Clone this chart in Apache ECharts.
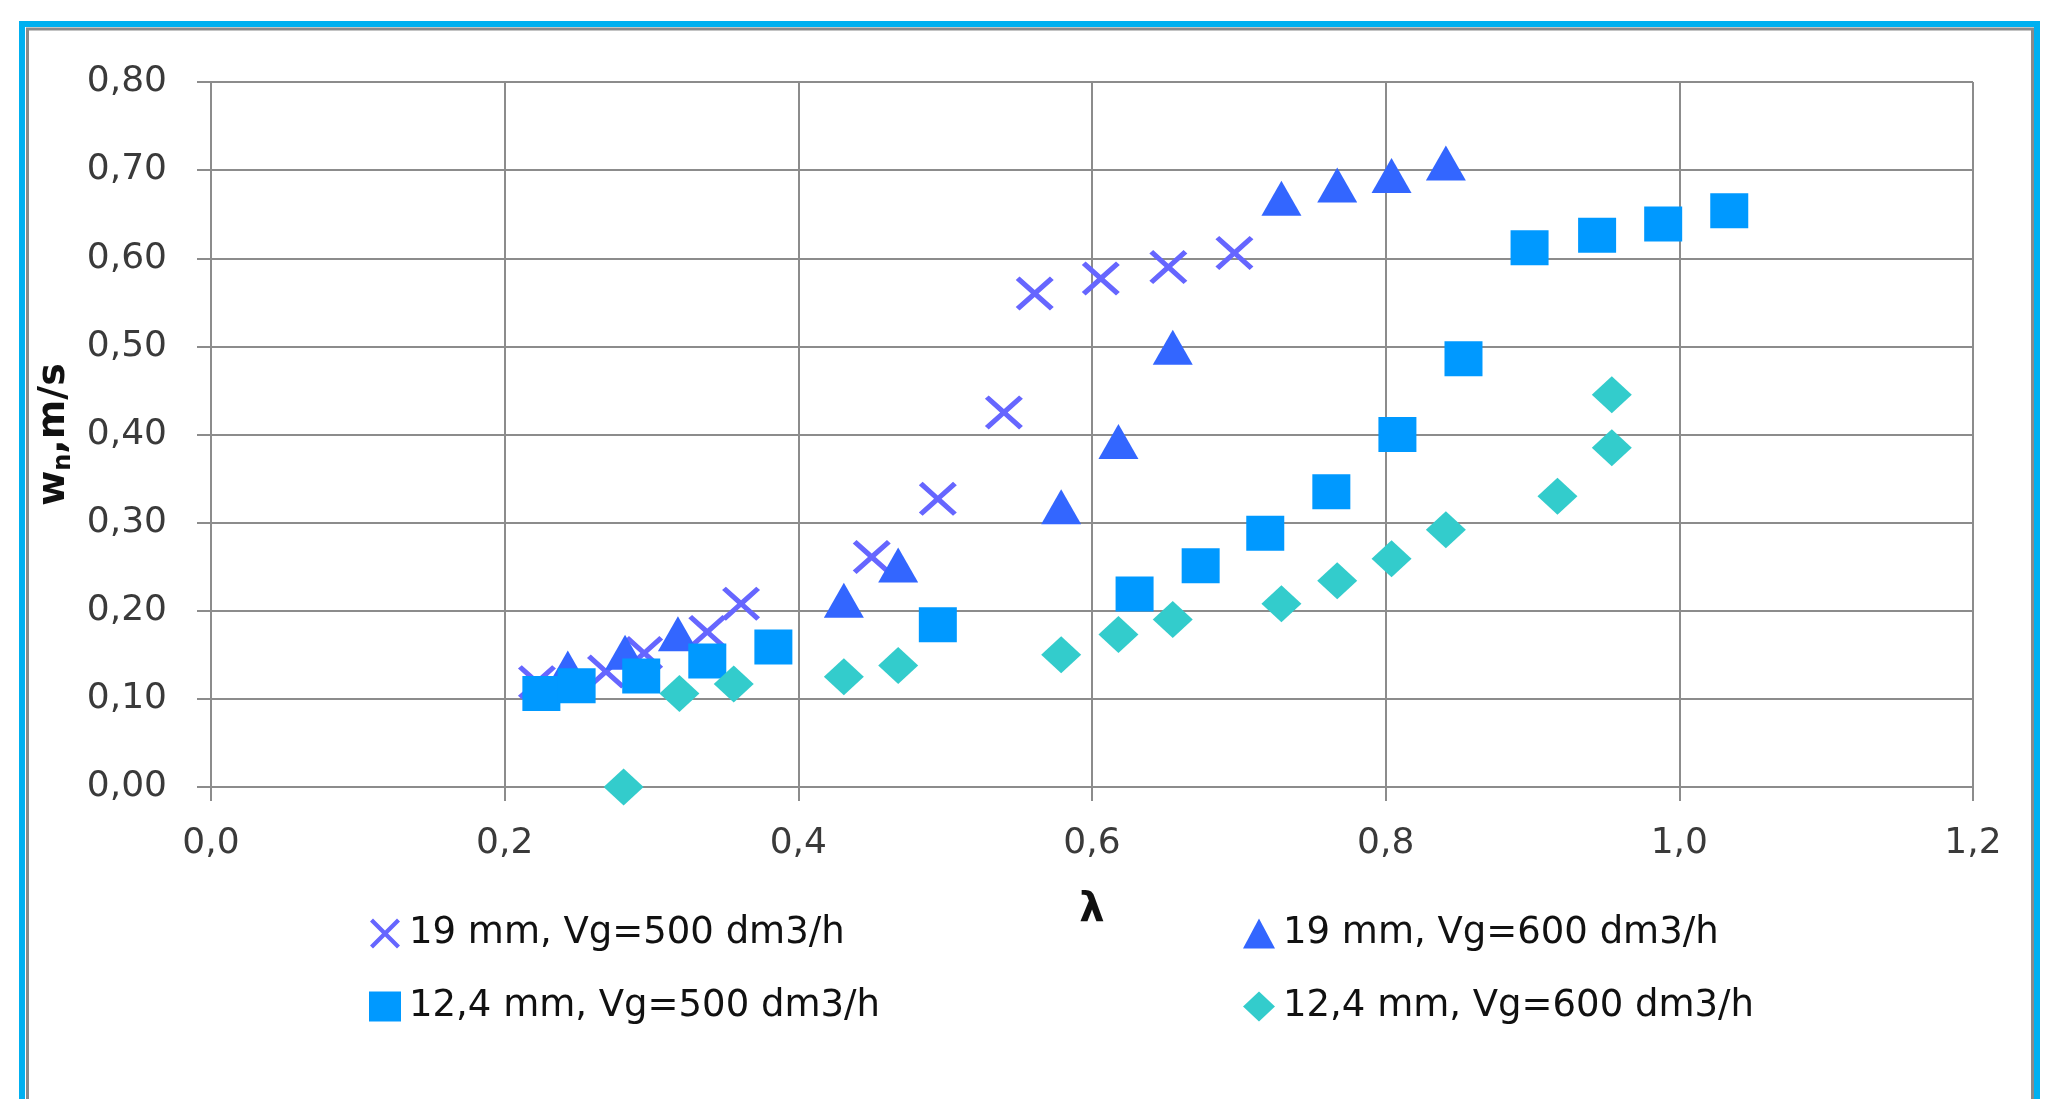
<!DOCTYPE html>
<html>
<head>
<meta charset="utf-8">
<title>w_n vs lambda</title>
<script src="https://cdn.jsdelivr.net/npm/echarts@6/dist/echarts.min.js"></script>
<style>
  html, body { margin: 0; padding: 0; background: #fff; }
  #chart { width: 2071px; height: 1099px; }
</style>
</head>
<body>
<div id="chart"></div>
<script>
// values (lambda on x, w_n in m/s on y)
const lam19_500 = [0.222, 0.269, 0.295, 0.338, 0.361, 0.450, 0.495, 0.540, 0.561, 0.606, 0.652, 0.697]
const w19_500 = [0.119, 0.131, 0.152, 0.176, 0.208, 0.261, 0.327, 0.425, 0.560, 0.577, 0.590, 0.606]

const lam19_600 = [0.243, 0.282, 0.318, 0.431, 0.468, 0.579, 0.618, 0.655, 0.729, 0.767, 0.804, 0.841]
const w19_600 = [0.135, 0.153, 0.174, 0.212, 0.252, 0.318, 0.392, 0.499, 0.668, 0.683, 0.694, 0.708]

const lam124_500 = [0.225, 0.249, 0.293, 0.338, 0.383, 0.495, 0.629, 0.674, 0.718, 0.763, 0.808, 0.853, 0.898, 0.944, 0.989, 1.034]
const w124_500 = [0.106, 0.115, 0.126, 0.143, 0.159, 0.184, 0.219, 0.251, 0.288, 0.335, 0.400, 0.486, 0.612, 0.626, 0.639, 0.654]

const lam124_600 = [0.281, 0.319, 0.356, 0.431, 0.468, 0.579, 0.618, 0.655, 0.729, 0.767, 0.804, 0.841, 0.917, 0.954, 0.954]
const w124_600 = [0.000, 0.106, 0.117, 0.125, 0.138, 0.150, 0.173, 0.190, 0.208, 0.234, 0.259, 0.292, 0.330, 0.385, 0.445]

const seriesNames = ['19 mm, Vg=500 dm3/h', '19 mm, Vg=600 dm3/h', '12,4 mm, Vg=500 dm3/h', '12,4 mm, Vg=600 dm3/h']

const FONT = 'DejaVu Sans'
// excel-like "x" marker as a filled outline
const X_PATH = 'path://M10,0L50,40L90,0L100,10L60,50L100,90L90,100L50,60L10,100L0,90L40,50L0,10Z'

const zip = (xs, ys) => xs.map((x, i) => [x, ys[i]])
const comma = (v, d) => v.toFixed(d).replace('.', ',')

const chart = echarts.init(document.getElementById('chart'))

const legendText = {
  fontFamily: FONT,
  fontSize: 37,
  color: '#111',
  lineHeight: 30,
  padding: [0, 0, 0, 3]
}

const option = {
  animation: false,
  backgroundColor: '#fff',
  graphic: [
    // frame round the chart: blue edge with a grey inner line
    {
      type: 'rect',
      shape: { x: 22, y: 24, width: 2015, height: 1200 },
      style: { fill: 'none', stroke: '#00b0f0', lineWidth: 6 },
      silent: true
    },
    {
      type: 'rect',
      shape: { x: 27.5, y: 29, width: 2005, height: 1200 },
      style: { fill: 'none', stroke: '#8a8a8a', lineWidth: 3 },
      silent: true
    }
  ],
  grid: { left: 211, right: 98, top: 82, bottom: 312 },
  legend: [
    {
      left: 369,
      top: 915,
      orient: 'vertical',
      padding: 0,
      itemWidth: 32,
      itemHeight: 30,
      itemGap: 36,
      selectedMode: false,
      textStyle: legendText,
      data: [
        { name: seriesNames[0], icon: X_PATH },
        { name: seriesNames[2], icon: 'rect' }
      ]
    },
    {
      left: 1243,
      top: 915,
      orient: 'vertical',
      padding: 0,
      itemWidth: 32,
      itemHeight: 30,
      itemGap: 36,
      selectedMode: false,
      textStyle: legendText,
      data: [
        { name: seriesNames[1], icon: 'triangle' },
        { name: seriesNames[3], icon: 'diamond' }
      ]
    }
  ],
  xAxis: {
    type: 'value',
    min: 0,
    max: 1.2,
    interval: 0.2,
    name: 'λ',
    nameLocation: 'middle',
    nameGap: 104,
    nameTextStyle: { fontFamily: FONT, fontSize: 40, fontWeight: 'bold', color: '#111' },
    axisLine: { show: true, lineStyle: { color: '#8c8c8c', width: 2 } },
    axisTick: { show: true, length: 14, lineStyle: { color: '#8c8c8c', width: 2 } },
    axisLabel: {
      margin: 39,
      fontFamily: FONT,
      fontSize: 36,
      color: '#3a3a3a',
      formatter: v => comma(v, 1)
    },
    splitLine: { show: true, lineStyle: { color: '#8c8c8c', width: 2 } }
  },
  yAxis: {
    type: 'value',
    min: 0,
    max: 0.8,
    interval: 0.1,
    name: '{a|w}{b|n}{a|,m/s}',
    nameLocation: 'middle',
    nameRotate: 90,
    nameGap: 126,
    nameTextStyle: {
      rich: {
        a: { fontFamily: FONT, fontSize: 38, fontWeight: 'bold', color: '#111', lineHeight: 44, verticalAlign: 'middle' },
        b: { fontFamily: FONT, fontSize: 24, fontWeight: 'bold', color: '#111', lineHeight: 44, verticalAlign: 'bottom' }
      }
    },
    axisLine: { show: true, lineStyle: { color: '#8c8c8c', width: 2 } },
    axisTick: { show: true, length: 14, lineStyle: { color: '#8c8c8c', width: 2 } },
    axisLabel: {
      margin: 44,
      fontFamily: FONT,
      fontSize: 36,
      color: '#3a3a3a',
      formatter: v => comma(v, 2)
    },
    splitLine: { show: true, lineStyle: { color: '#8c8c8c', width: 2 } }
  },
  series: [
    {
      name: seriesNames[0],
      type: 'scatter',
      symbol: X_PATH,
      symbolSize: [38, 34],
      itemStyle: { color: '#6666ff', opacity: 1 },
      emphasis: { disabled: true },
      data: zip(lam19_500, w19_500)
    },
    {
      name: seriesNames[1],
      type: 'scatter',
      symbol: 'triangle',
      symbolSize: [40, 35],
      itemStyle: { color: '#3366ff', opacity: 1 },
      emphasis: { disabled: true },
      data: zip(lam19_600, w19_600)
    },
    {
      name: seriesNames[2],
      type: 'scatter',
      symbol: 'rect',
      symbolSize: [38, 35],
      itemStyle: { color: '#0099ff', opacity: 1 },
      emphasis: { disabled: true },
      data: zip(lam124_500, w124_500)
    },
    {
      name: seriesNames[3],
      type: 'scatter',
      symbol: 'diamond',
      symbolSize: [40, 37],
      itemStyle: { color: '#33cccc', opacity: 1 },
      emphasis: { disabled: true },
      data: zip(lam124_600, w124_600)
    }
  ]
}

chart.setOption(option)
</script>
</body>
</html>
